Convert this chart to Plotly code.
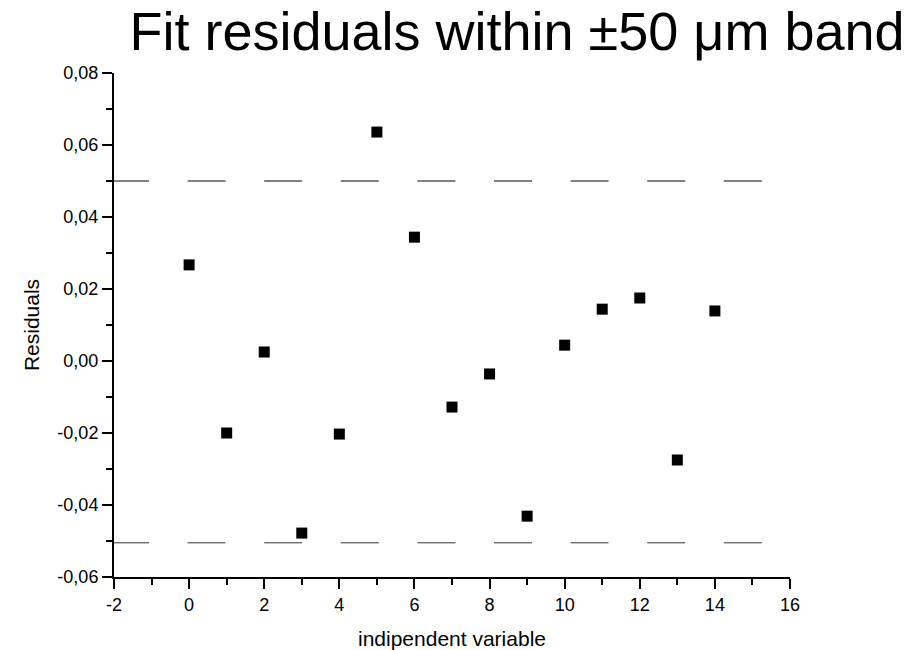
import plotly.graph_objects as go

x_vals = [0, 1, 2, 3, 4, 5, 6, 7, 8, 9, 10, 11, 12, 13, 14]
residuals = [0.0267, -0.0200, 0.0025, -0.0478, -0.0203, 0.0636, 0.0344, -0.0128,
             -0.0036, -0.0431, 0.0044, 0.0144, 0.0175, -0.0275, 0.0139]
band_x = [-2.08, 15.28]
band_upper = [0.05, 0.05]
band_lower = [-0.0505, -0.0505]

x_tickvals = [-2, 0, 2, 4, 6, 8, 10, 12, 14, 16]
x_ticktext = ["-2", "0", "2", "4", "6", "8", "10", "12", "14", "16"]
y_tickvals = [-0.06, -0.04, -0.02, 0.0, 0.02, 0.04, 0.06, 0.08]
y_ticktext = ["-0,06", "-0,04", "-0,02", "0,00", "0,02", "0,04", "0,06", "0,08"]

font = "Liberation Sans, Arial, sans-serif"

fig = go.Figure()
fig.add_trace(go.Scatter(x=band_x, y=band_upper, mode="lines",
                         line=dict(color="#808080", width=2, dash="38px,38.6px"),
                         showlegend=False, hoverinfo="skip"))
fig.add_trace(go.Scatter(x=band_x, y=band_lower, mode="lines",
                         line=dict(color="#333333", width=1, dash="38px,38.6px"),
                         showlegend=False, hoverinfo="skip"))
fig.add_trace(go.Scatter(x=x_vals, y=residuals, mode="markers",
                         marker=dict(symbol="square", size=11, color="black"),
                         showlegend=False))

fig.update_layout(
    width=913, height=650,
    margin=dict(l=114, r=123, t=73, b=73),
    paper_bgcolor="white", plot_bgcolor="white",
    font=dict(family=font, color="black", size=18),
    title=dict(text="Fit residuals within ±50 μm band",
               font=dict(family=font, size=54, color="black"),
               x=517 / 913, xanchor="center", xref="container",
               y=1 - 31 / 650, yanchor="middle", yref="container"),
    xaxis=dict(range=[-2, 16], tickmode="array", tickvals=x_tickvals, ticktext=x_ticktext,
               showgrid=False, zeroline=False, showline=True, linecolor="black",
               linewidth=2, ticks="outside", ticklen=10, tickwidth=2, tickcolor="black",
               minor=dict(ticks="outside", ticklen=6, tickwidth=2, tickcolor="black",
                          tickmode="linear", tick0=-2, dtick=1, showgrid=False),
               tickfont=dict(size=18), automargin=False,
               title=dict(text="indipendent variable", font=dict(size=21), standoff=21)),
    yaxis=dict(range=[-0.06, 0.08], tickmode="array", tickvals=y_tickvals, ticktext=y_ticktext,
               showgrid=False, zeroline=False, showline=True, linecolor="black",
               linewidth=2, ticks="outside", ticklen=10, tickwidth=2, tickcolor="black",
               minor=dict(ticks="outside", ticklen=6, tickwidth=2, tickcolor="black",
                          tickmode="linear", tick0=-0.06, dtick=0.01, showgrid=False),
               tickfont=dict(size=18), automargin=False,
               title=dict(text="Residuals", font=dict(size=21), standoff=12)),
)

fig.write_html("out.html")
